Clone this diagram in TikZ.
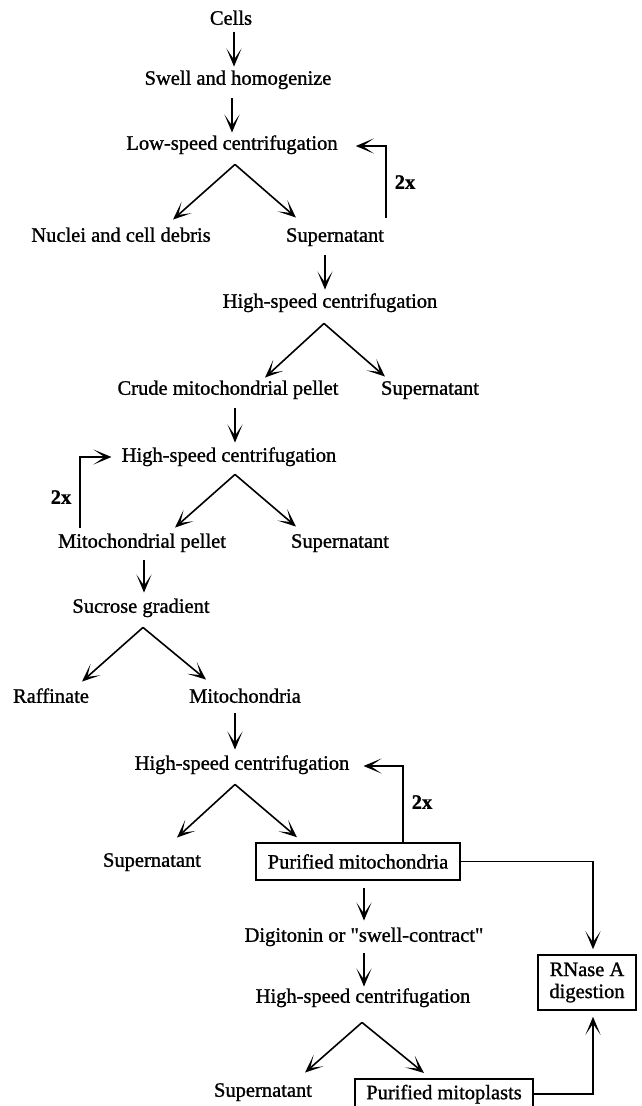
\documentclass[tikz,border=0pt]{standalone}
\usepackage{fontspec}
\setmainfont{Liberation Serif}[FakeBold=1.1]
\usetikzlibrary{arrows.meta,calc}
\newcommand\fsz{\fontsize{20.5}{22}\selectfont}
\tikzset{
  lbl/.style={font=\fsz, inner sep=0pt, text height=14pt, text depth=4.5pt},
  boxed/.style={draw, line width=1.5pt, font=\fsz, inner sep=0pt},
  arr/.style={-{Stealth[length=18pt,width=15pt,inset=11pt]}, line width=1.6pt},
  rep/.style={font=\fsz\bfseries, inner sep=0pt}
}
\begin{document}
\begin{tikzpicture}[x=1pt,y=-1pt]
\useasboundingbox (0,0) rectangle (642,1106);
% nodes
\node[lbl] (cells) at (231,20) {Cells};
\node[lbl] (swell) at (238,80) {Swell and homogenize};
\node[lbl] (lsc) at (232,145) {Low-speed centrifugation};
\node[lbl] (nuclei) at (121,237) {Nuclei and cell debris};
\node[lbl] (sup1) at (335,237) {Supernatant};
\node[lbl] (hsc1) at (330,303) {High-speed centrifugation};
\node[lbl] (crude) at (228,390) {Crude mitochondrial pellet};
\node[lbl] (sup2) at (430,390) {Supernatant};
\node[lbl] (hsc2) at (229,457) {High-speed centrifugation};
\node[lbl] (mpel) at (142,543) {Mitochondrial pellet};
\node[lbl] (sup3) at (340,543) {Supernatant};
\node[lbl] (sucr) at (141,608) {Sucrose gradient};
\node[lbl] (raff) at (51,698) {Raffinate};
\node[lbl] (mito) at (245,698) {Mitochondria};
\node[lbl] (hsc3) at (242,765) {High-speed centrifugation};
\node[lbl] (sup4) at (152,862) {Supernatant};
\node[boxed, minimum width=204pt, minimum height=37pt] (pmito) at (358,861.5) {Purified mitochondria};
\node[lbl] (digi) at (364,937) {Digitonin or \textquotedbl swell-contract\textquotedbl};
\node[lbl] (hsc4) at (363,998) {High-speed centrifugation};
\node[lbl] (sup5) at (263,1092) {Supernatant};
\node[boxed, anchor=north, minimum width=178pt, inner ysep=6pt] (mitop) at (444,1078) {Purified mitoplasts};
\node[boxed, align=center, minimum width=98pt, minimum height=55pt] (rnase) at (587,982.5) {RNase A\\digestion};
\node[rep] (r1) at (405,182) {2x};
\node[rep] (r2) at (61,497) {2x};
\node[rep] (r3) at (422,802) {2x};
% straight arrows
\draw[arr] ($(cells.south)+(3,3)$) -- ($(swell.north)+(-4,-4)$);
\draw[arr] ($(swell.south)+(-6,9)$) -- ($(lsc.north)+(0,-3)$);
\draw[arr] ($(sup1.south)+(-10,9)$) -- ($(hsc1.north)+(-5,-4)$);
\draw[arr] ($(crude.south)+(7,9)$) -- ($(hsc2.north)+(6,-5)$);
\draw[arr] ($(mpel.south)+(2,8)$) -- ($(sucr.north)+(3,-6)$);
\draw[arr] ($(mito.south)+(-10,6)$) -- ($(hsc3.north)+(-7,-6)$);
\draw[arr] ($(pmito.south)+(6,7)$) -- ($(digi.north)+(0,-7)$);
\draw[arr] ($(digi.south)+(0,7)$) -- ($(hsc4.north)+(1,-2)$);
% branches
\coordinate (b1) at ($(lsc.south)+(3,10)$);
\draw[arr] (b1) -- ($(nuclei.north)+(52,-8)$);
\draw[arr] (b1) -- ($(sup1.north)+(-39,-10)$);
\coordinate (b2) at ($(hsc1.south)+(-6,11)$);
\draw[arr] (b2) -- ($(crude.north)+(37,-3)$);
\draw[arr] (b2) -- ($(sup2.north)+(-45,-4)$);
\coordinate (b3) at ($(hsc2.south)+(6,8)$);
\draw[arr] (b3) -- ($(mpel.north)+(33,-6)$);
\draw[arr] (b3) -- ($(sup3.north)+(-44,-7)$);
\coordinate (b4) at ($(sucr.south)+(2,10)$);
\draw[arr] (b4) -- ($(raff.north)+(31,-7)$);
\draw[arr] (b4) -- ($(mito.north)+(-39,-9)$);
\coordinate (b5) at ($(hsc3.south)+(-7,10)$);
\draw[arr] (b5) -- ($(sup4.north)+(25,-15)$);
\draw[arr] (b5) -- ($(pmito.north)+(-61,-5)$);
\coordinate (b6) at ($(hsc4.south)+(-1,15)$);
\draw[arr] (b6) -- ($(sup5.north)+(42,-10)$);
\draw[arr] (b6) -- ($(mitop.north)+(-20,-5)$);
% loops
\draw[arr] ($(sup1.north east)+(2,-10)$) |- ($(lsc.east)+(18,1)$);
\draw[arr] ($(mpel.north west)+(22,-6)$) |- ($(hsc2.west)+(-10,0)$);
\draw[arr] ($(pmito.north)+(45,0)$) |- ($(hsc3.east)+(14,1)$);
% to RNase
\draw[arr] (pmito.east) -| ($(rnase.north)+(6,-5)$);
\draw[arr] (mitop.east) -| ($(rnase.south)+(6,6)$);
\end{tikzpicture}
\end{document}
